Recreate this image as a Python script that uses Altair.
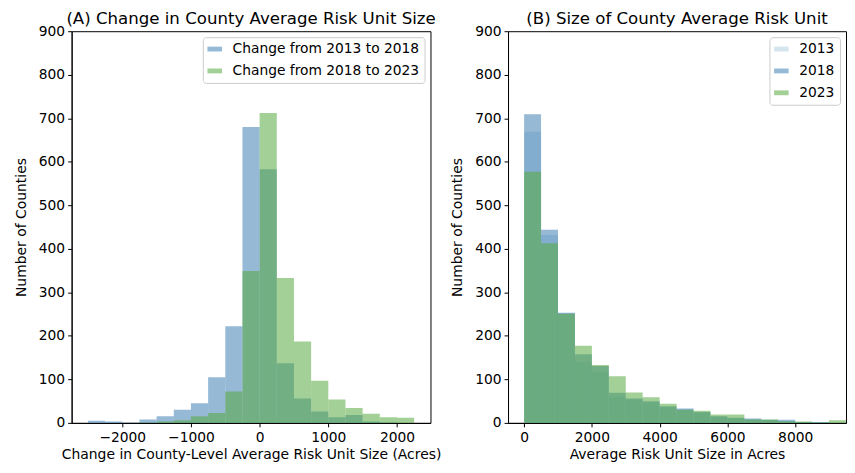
import altair as alt
import pandas as pd

# ---------------- data ----------------
# Panel A: bin edges (acres), 250-acre bins
a_bin_start = [-2500, -2250, -2000, -1750, -1500, -1250, -1000, -750, -500, -250,
               0, 250, 500, 750, 1000, 1250, 1500, 1750, 2000]
a_bin_end = [-2250, -2000, -1750, -1500, -1250, -1000, -750, -500, -250, 0,
             250, 500, 750, 1000, 1250, 1500, 1750, 2000, 2250]
chg_2013_2018 = [5, 3, 1, 8, 15, 30, 45, 105, 222, 680,
                 583, 137, 56, 26, 13, 18, 3, 1, 0]
chg_2018_2023 = [0, 0, 0, 1, 3, 6, 15, 23, 72, 349,
                 712, 333, 187, 97, 54, 34, 21, 13, 12]
a_series = ["Change from 2013 to 2018", "Change from 2018 to 2023"]

# Panel B: 500-acre bins
b_bin_start = [0, 500, 1000, 1500, 2000, 2500, 3000, 3500, 4000, 4500,
               5000, 5500, 6000, 6500, 7000, 7500, 8000, 8500, 9000]
b_bin_end = [500, 1000, 1500, 2000, 2500, 3000, 3500, 4000, 4500, 5000,
             5500, 6000, 6500, 7000, 7500, 8000, 8500, 9000, 9500]
size_2013 = [669, 432, 252, 140, 118, 59, 54, 47, 36, 31, 24, 14, 11, 8, 6, 4, 2, 1, 0]
size_2018 = [709, 444, 253, 158, 131, 69, 56, 50, 38, 33, 25, 15, 12, 10, 7, 7, 2, 2, 0]
size_2023 = [577, 413, 251, 177, 133, 107, 70, 59, 44, 30, 28, 19, 19, 8, 8, 4, 3, 1, 6]
b_series = ["2013", "2018", "2023"]

y_ticks = [0, 100, 200, 300, 400, 500, 600, 700, 800, 900]
a_x_ticks = [-2000, -1000, 0, 1000, 2000]
b_x_ticks = [0, 2000, 4000, 6000, 8000]

# ---------------- tables ----------------
rows_a = []
for name, vals in zip(a_series, [chg_2013_2018, chg_2018_2023]):
    for s, e, v in zip(a_bin_start, a_bin_end, vals):
        rows_a.append({"start": s, "end": e, "count": v, "base": 0, "series": name})
df_a = pd.DataFrame(rows_a)

rows_b = []
for name, vals in zip(b_series, [size_2013, size_2018, size_2023]):
    for s, e, v in zip(b_bin_start, b_bin_end, vals):
        rows_b.append({"start": s, "end": e, "count": v, "base": 0, "series": name})
df_b = pd.DataFrame(rows_b)

FONT = "DejaVu Sans"
RECT = "M-1.5,-0.5L1.5,-0.5L1.5,0.5L-1.5,0.5Z"

def legend():
    return alt.Legend(
        title=None, orient="top-right", offset=6, padding=5,
        strokeColor="#cccccc", fillColor="white", cornerRadius=3,
        symbolType=RECT, symbolSize=95, symbolStrokeWidth=0,
        labelFontSize=13.9, labelFont=FONT, labelColor="black", labelLimit=300,
        rowPadding=7, labelOffset=11,
    )

def y_enc():
    return alt.Y(
        "count:Q", stack=None,
        scale=alt.Scale(domain=[0, 900], nice=False, zero=True),
        axis=alt.Axis(values=y_ticks, title="Number of Counties", format="d",
                      titlePadding=10, labelPadding=3),
    )

chart_a = alt.Chart(df_a).mark_rect(opacity=0.55, clip=True).encode(
    x=alt.X("start:Q",
            scale=alt.Scale(domain=[-2737.5, 2487.5], nice=False, zero=False),
            axis=alt.Axis(values=a_x_ticks, format="d", titlePadding=3, labelPadding=4,
                          title="Change in County-Level Average Risk Unit Size (Acres)")),
    x2="end:Q",
    y=y_enc(),
    y2="base:Q",
    color=alt.Color("series:N",
                    scale=alt.Scale(domain=a_series, range=["#4080b4", "#56aa40"]),
                    legend=legend()),
).properties(
    width=361, height=394,
    title=alt.TitleParams("(A) Change in County Average Risk Unit Size"),
)

chart_b = alt.Chart(df_b).mark_rect(opacity=0.55, clip=True).encode(
    x=alt.X("start:Q",
            scale=alt.Scale(domain=[-475, 9500], nice=False, zero=False),
            axis=alt.Axis(values=b_x_ticks, format="d", titlePadding=3, labelPadding=4,
                          title="Average Risk Unit Size in Acres")),
    x2="end:Q",
    y=y_enc(),
    y2="base:Q",
    color=alt.Color("series:N",
                    scale=alt.Scale(domain=b_series,
                                    range=["#b1d0e0", "#4080b4", "#56aa40"]),
                    legend=legend()),
).properties(
    width=340, height=394,
    title=alt.TitleParams("(B) Size of County Average Risk Unit"),
)

chart = alt.hconcat(chart_a, chart_b, spacing=7).resolve_scale(
    color="independent"
).properties(
    padding={"left": 5, "top": 0, "right": 0, "bottom": 0}
).configure_view(
    stroke="black", strokeWidth=1
).configure_axis(
    grid=False, domainColor="black", tickColor="black", labelColor="black",
    titleColor="black", tickSize=4, labelFont=FONT, titleFont=FONT,
    labelFontSize=13.9, titleFontSize=14, titleFontWeight="normal",
).configure_title(
    font=FONT, fontSize=16.7, fontWeight="normal", color="black",
    anchor="middle", offset=-3,
)

chart.save("out.html", embed_options={"renderer": "svg", "actions": False})
